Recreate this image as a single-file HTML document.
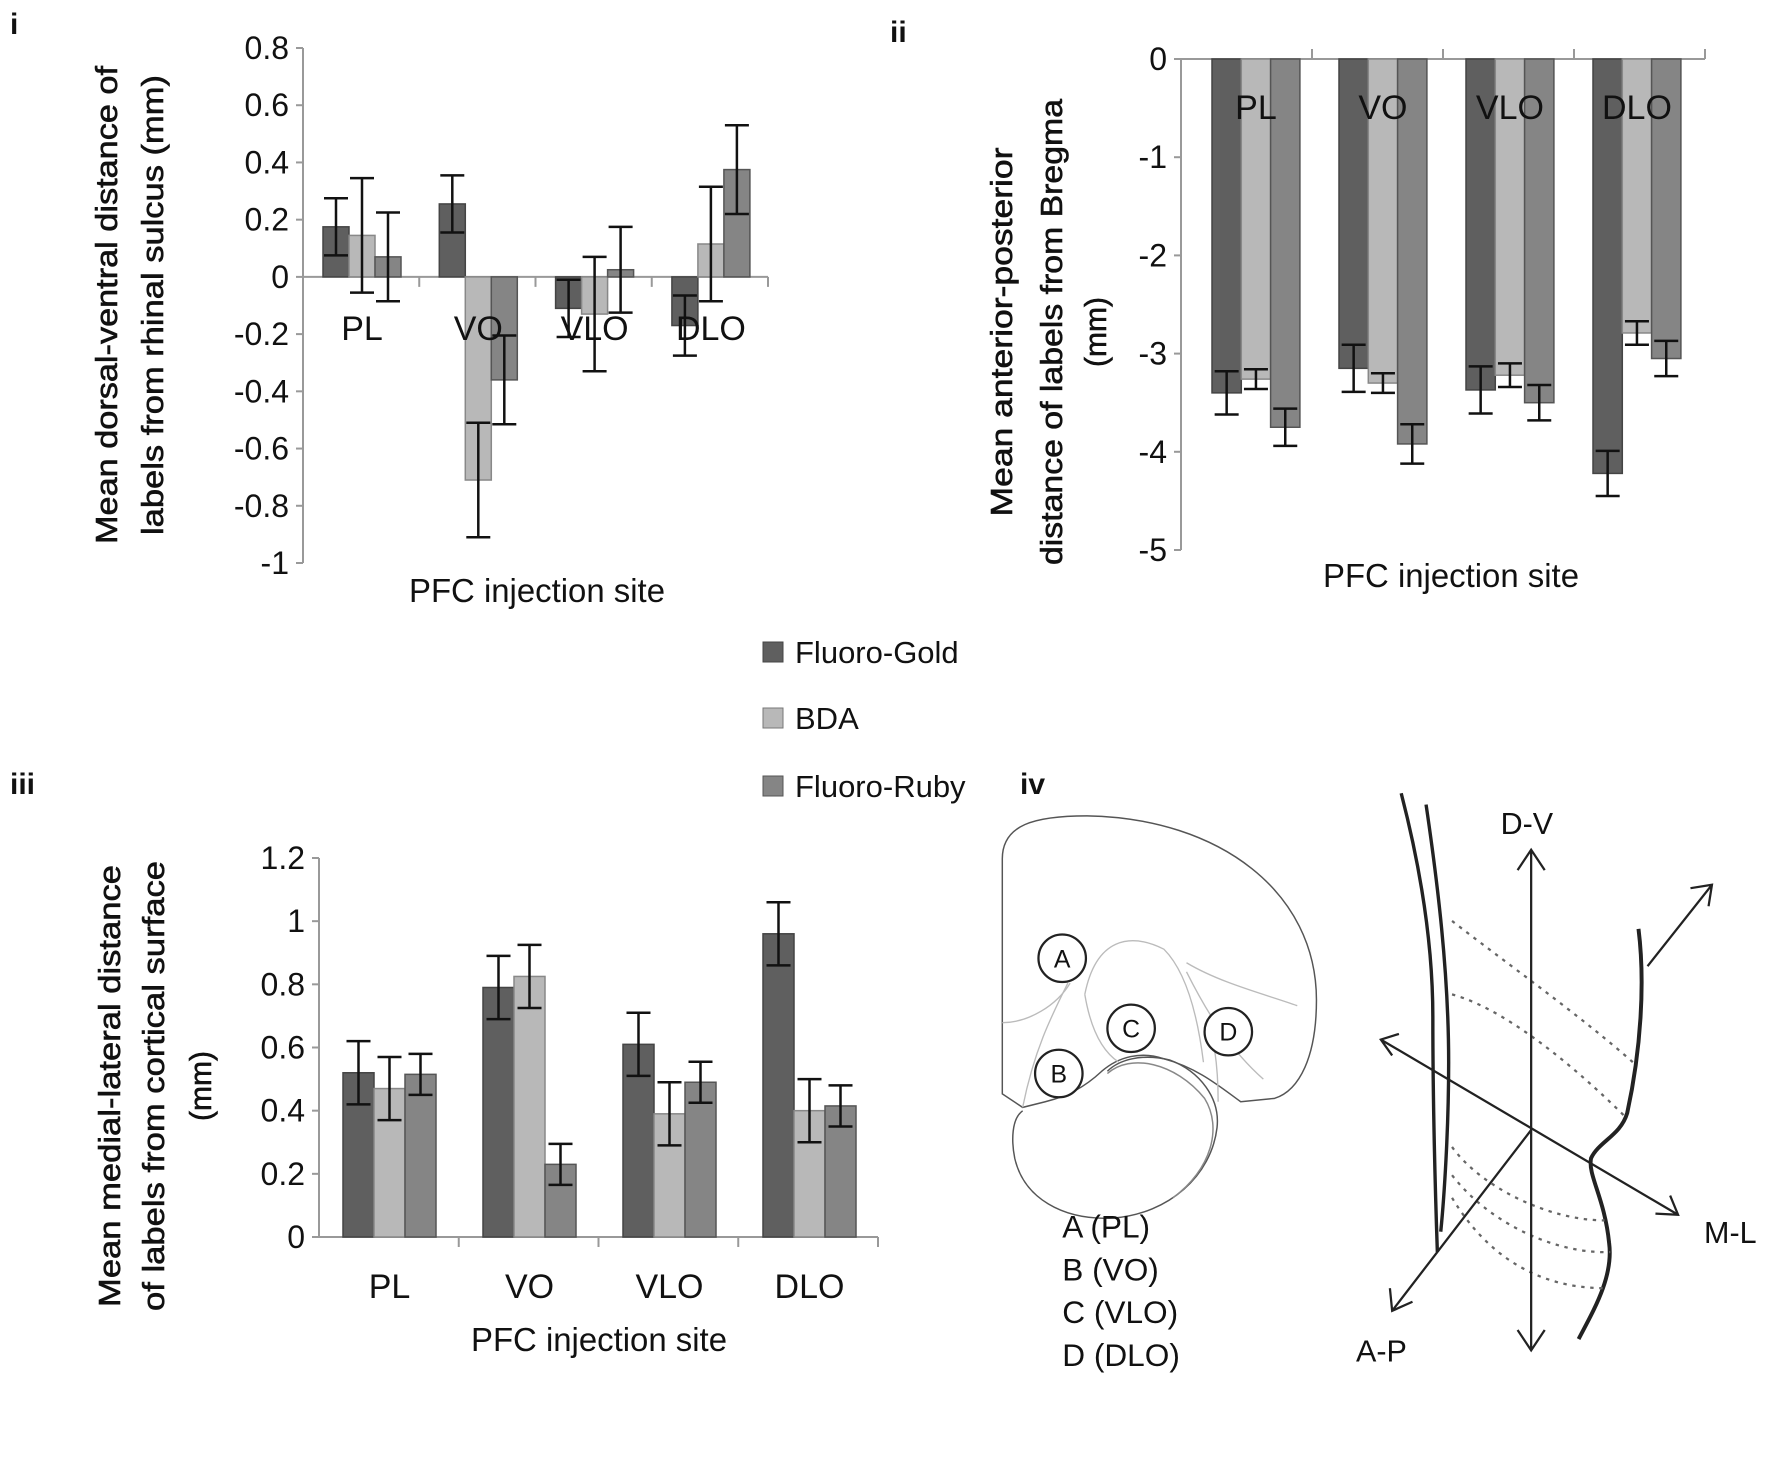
<!DOCTYPE html>
<html><head><meta charset="utf-8"><style>
html,body{margin:0;padding:0;background:#fff}
svg{display:block}
text{font-family:"Liberation Sans Narrow","Liberation Sans",sans-serif;fill:#111}
.t{font-family:"Liberation Sans",sans-serif}
</style></head><body>
<svg id="fig" width="1772" height="1457" viewBox="0 0 1772 1457" xmlns="http://www.w3.org/2000/svg">
<g font-family="Liberation Sans" font-weight="bold" font-size="30">
<text class="t" x="10" y="34" font-weight="bold">i</text>
<text class="t" x="890" y="42" font-weight="bold">ii</text>
<text class="t" x="10" y="794" font-weight="bold">iii</text>
<text class="t" x="1020" y="794" font-weight="bold">iv</text>
</g>
<g id="charts"></g>
<g>
<rect x="763" y="642" width="20" height="20" fill="#5f5f5f" stroke="#444"/>
<text class="t" x="795" y="663" font-size="31">Fluoro-Gold</text>
<rect x="763" y="708" width="20" height="20" fill="#b8b8b8" stroke="#777"/>
<text class="t" x="795" y="729" font-size="31">BDA</text>
<rect x="763" y="776" width="20" height="20" fill="#858585" stroke="#555"/>
<text class="t" x="795" y="797" font-size="31">Fluoro-Ruby</text>
</g>
<g transform="scale(1.13)">
<g fill="none" stroke="#555" stroke-width="1.3">
<path d="M887,760 C887,730 915,722 962,722 C1080,724 1165,790 1165,885 C1165,935 1150,965 1128,972 L1098,975 C1080,962 1060,945 1030,937 C1010,930 990,935 975,948 C960,962 945,970 925,975 L905,980 L887,968 Z"/>
<path d="M905,983 C895,990 895,1010 898,1025 C906,1060 940,1080 985,1078 C1035,1074 1072,1040 1077,998 C1080,972 1062,948 1035,938 C1010,932 990,938 980,948"/>
<path d="M980,950 C1000,932 1040,940 1066,972 C1082,998 1072,1035 1038,1060" stroke="#888"/>
<g stroke="#bbb" stroke-width="1.2">
<path d="M960,880 C970,830 1000,825 1030,840 C1050,860 1060,900 1065,940"/>
<path d="M960,880 C965,910 975,930 990,940"/>
<path d="M887,905 C910,905 935,890 947,870"/>
<path d="M905,980 C915,930 930,900 945,870"/>
<path d="M1050,852 C1080,870 1120,880 1148,890"/>
<path d="M1050,860 C1070,900 1090,930 1118,955"/>
<path d="M1075,930 C1078,950 1078,965 1078,975"/>
</g>
</g>
<g stroke="#222" stroke-width="2" fill="#fff">
<circle cx="940" cy="848" r="21"/><circle cx="937" cy="950" r="21"/>
<circle cx="1001" cy="910" r="21"/><circle cx="1087" cy="913" r="21"/>
</g>
<g font-family="Liberation Sans Narrow" font-size="22" text-anchor="middle">
<text x="940" y="856">A</text>
<text x="937" y="958">B</text>
<text x="1001" y="918">C</text>
<text x="1087" y="921">D</text>
</g>
<g font-size="28">
<text x="940" y="1095">A (PL)</text>
<text x="940" y="1133">B (VO)</text>
<text x="940" y="1171">C (VLO)</text>
<text x="940" y="1209">D (DLO)</text>
</g>
<g fill="none" stroke="#222">
<path d="M1240,702 C1255,760 1268,830 1268,900 C1268,980 1270,1050 1272,1108" stroke-width="3"/>
<path d="M1262,712 C1272,780 1282,860 1282,940 C1282,1000 1278,1060 1275,1090" stroke-width="3"/>
<path d="M1450,822 C1456,870 1452,930 1440,985 C1434,1005 1415,1010 1408,1025 C1405,1040 1420,1060 1424,1100 C1428,1130 1410,1160 1397,1185" stroke-width="3.5"/>
<g stroke="#666" stroke-width="2" stroke-dasharray="3,5">
<path d="M1285,815 C1330,850 1400,900 1445,940"/>
<path d="M1285,880 C1340,895 1410,960 1440,990"/>
<path d="M1285,1015 C1310,1050 1370,1080 1420,1080"/>
<path d="M1285,1040 C1320,1085 1380,1110 1425,1108"/>
<path d="M1285,1060 C1315,1110 1360,1140 1420,1140"/>
</g>
<path d="M1355,752 L1355,1195 M1343,770 L1355,752 L1367,770 M1343,1177 L1355,1195 L1367,1177" stroke-width="2"/>
<path d="M1222,920 L1485,1075 M1238,915 L1222,920 L1232,934 M1465,1074 L1485,1075 L1478,1058" stroke-width="2"/>
<path d="M1355,1000 L1232,1160 M1230,1140 L1232,1160 L1250,1152" stroke-width="2"/>
<path d="M1458,855 L1515,783 M1496,786 L1515,783 L1512,802" stroke-width="2"/>
</g>
<g font-size="27">
<text x="1328" y="738">D-V</text>
<text x="1508" y="1100">M-L</text>
<text x="1200" y="1205">A-P</text>
</g>
</g>
</svg>
<script>
const categories = ["PL","VO","VLO","DLO"];
const seriesNames = ["Fluoro-Gold","BDA","Fluoro-Ruby"];
const dvFG = [0.175, 0.255, -0.11, -0.17];
const dvBDA = [0.145, -0.71, -0.13, 0.115];
const dvFR = [0.07, -0.36, 0.025, 0.375];
const dvErrFG = [0.1, 0.1, 0.1, 0.105];
const dvErrBDA = [0.2, 0.2, 0.2, 0.2];
const dvErrFR = [0.155, 0.155, 0.15, 0.155];
const dvTicks = ["0.8","0.6","0.4","0.2","0","-0.2","-0.4","-0.6","-0.8","-1"];
const apFG = [-3.4, -3.15, -3.37, -4.22];
const apBDA = [-3.26, -3.3, -3.22, -2.79];
const apFR = [-3.75, -3.92, -3.5, -3.05];
const apErrFG = [0.22, 0.24, 0.24, 0.23];
const apErrBDA = [0.1, 0.1, 0.12, 0.12];
const apErrFR = [0.19, 0.2, 0.18, 0.18];
const apTicks = ["0","-1","-2","-3","-4","-5"];
const mlFG = [0.52, 0.79, 0.61, 0.96];
const mlBDA = [0.47, 0.825, 0.39, 0.40];
const mlFR = [0.515, 0.23, 0.49, 0.415];
const mlErrFG = [0.1, 0.1, 0.1, 0.1];
const mlErrBDA = [0.1, 0.1, 0.1, 0.1];
const mlErrFR = [0.065, 0.065, 0.065, 0.065];
const mlTicks = ["1.2","1","0.8","0.6","0.4","0.2","0"];

const NS = "http://www.w3.org/2000/svg";
const root = document.getElementById('charts');
const fills = ["#5f5f5f","#b8b8b8","#858585"];
const strokes = ["#444","#888","#555"];
function mk(tag, parent, attrs){const e=document.createElementNS(NS,tag);for(const k in attrs)e.setAttribute(k,attrs[k]);parent.appendChild(e);return e;}

function chart(cfg){
  const g = mk('g', root, {});
  
  
  const y = v => cfg.y0 + (cfg.vmax - v) * (cfg.y1 - cfg.y0) / (cfg.vmax - cfg.vmin);
  const groupX = i => cfg.gx0 + i * cfg.gw;
  const ax = mk('line', g, {x1:cfg.ax, x2:cfg.ax, y1:y(cfg.vmax), y2:y(cfg.vmin), stroke:'#999', 'stroke-width':2});
  
  
  cfg.ticks.forEach(t => {
    const v = parseFloat(t);
    mk('line', g, {x1:cfg.ax-7, x2:cfg.ax, y1:y(v), y2:y(v), stroke:'#999', 'stroke-width':2});
    const tx = mk('text', g, {x:cfg.ax-14, y:y(v)+11, 'text-anchor':'end', 'font-size':32});
    tx.textContent = t;
    
    
  });
  const zl = mk('line', g, {x1:cfg.ax, x2:cfg.axEnd, y1:y(0), y2:y(0), stroke:'#999', 'stroke-width':2});
  
  
  for (let i = 1; i <= categories.length; i++) {
    const tx = cfg.ax + i * (cfg.axEnd - cfg.ax) / categories.length;
    mk('line', g, {x1:tx, x2:tx, y1:y(0), y2:y(0)+cfg.tickDir*10, stroke:'#999', 'stroke-width':2});
  }
  categories.forEach((c, i) => {
    cfg.series.forEach((vals, s) => {
      const v = vals[i], e = cfg.errs[s][i];
      const x = groupX(i) + s * cfg.bw;
      const top = Math.min(y(v), y(0)), h = Math.abs(y(v) - y(0));
      const r = mk('rect', g, {x:x, y:top, width:cfg.bw, height:h, fill:fills[s], stroke:strokes[s], 'stroke-width':1.5});
      
      
      const cx = x + cfg.bw/2;
      const eb = mk('path', g, {d:`M${cx},${y(v+e)}V${y(v-e)}M${cx-12},${y(v+e)}H${cx+12}M${cx-12},${y(v-e)}H${cx+12}`, stroke:'#111', 'stroke-width':2.5, fill:'none'});
      
      
    });
    const lbl = mk('text', g, {x:groupX(i) + 1.5*cfg.bw, y:cfg.catY, 'text-anchor':'middle', 'font-size':34});
    lbl.textContent = c;
    
    
  });
  const xt = mk('text', g, {x:cfg.xtX, y:cfg.xtY, 'font-size':33, textLength:256, lengthAdjust:'spacingAndGlyphs'});
  xt.textContent = 'PFC injection site';
  
  
  cfg.ytitle.forEach(([txt, bx, len]) => {
    const t = mk('text', g, {x:0, y:0, class:'t', 'font-size':31, 'stroke':'#111', 'stroke-width':0.6, 'text-anchor':'middle', transform:`translate(${bx},${cfg.ytY}) rotate(-90)`, textLength:len, lengthAdjust:'spacingAndGlyphs'});
    t.textContent = txt;
    
    
  });
}

chart({name:'chart-dorsal-ventral', vmax:0.8, vmin:-1, y0:48, y1:563, ax:303, axEnd:768,
  gx0:323, gw:116.3, bw:26, series:[dvFG,dvBDA,dvFR], errs:[dvErrFG,dvErrBDA,dvErrFR],
  ticks:dvTicks, tickDir:1, catY:340, xtX:409, xtY:602, ytY:305,
  ytitle:[["Mean dorsal-ventral distance of",117,478],["labels from rhinal sulcus (mm)",163,460]]});
chart({name:'chart-anterior-posterior', vmax:0, vmin:-5, y0:59, y1:550, ax:1181, axEnd:1705,
  gx0:1212, gw:127, bw:29.3, series:[apFG,apBDA,apFR], errs:[apErrFG,apErrBDA,apErrFR],
  ticks:apTicks, tickDir:-1, catY:119, xtX:1323, xtY:587, ytY:332,
  ytitle:[["Mean anterior-posterior",1012,369],["distance of labels from Bregma",1062,466],["(mm)",1106,70]]});
chart({name:'chart-medial-lateral', vmax:1.2, vmin:0, y0:858, y1:1237, ax:319, axEnd:878,
  gx0:343, gw:140, bw:31, series:[mlFG,mlBDA,mlFR], errs:[mlErrFG,mlErrBDA,mlErrFR],
  ticks:mlTicks, tickDir:1, catY:1298, xtX:471, xtY:1351, ytY:1086,
  ytitle:[["Mean medial-lateral distance",120,442],["of labels from cortical surface",164,450],["(mm)",211,70]]});
</script>
</body></html>
